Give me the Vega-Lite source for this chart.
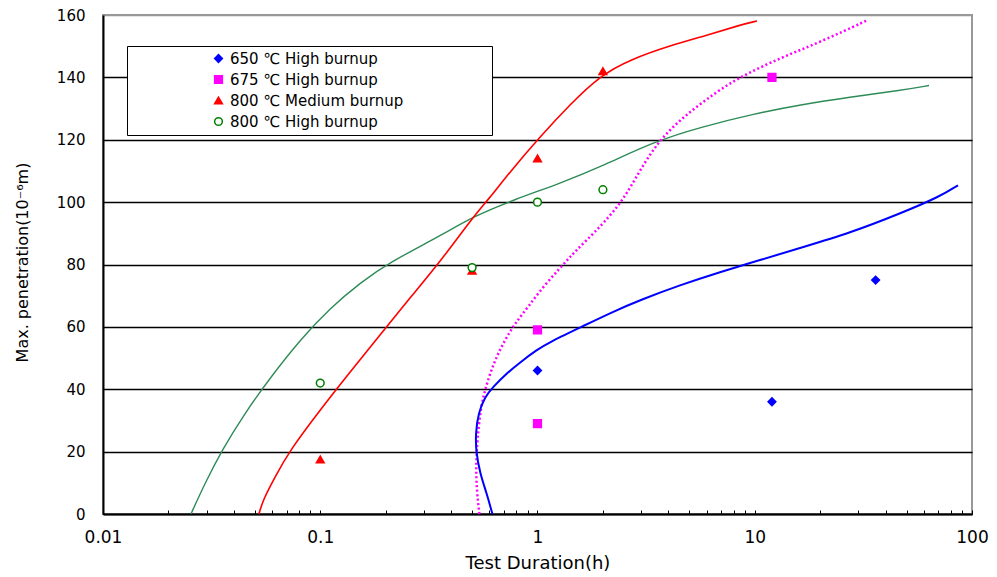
{
  "$schema": "https://vega.github.io/schema/vega-lite/v6.json",
  "width": 869,
  "height": 499,
  "autosize": "none",
  "padding": {"left": 103, "top": 15, "right": 25, "bottom": 63},
  "background": "white",
  "config": {"font": "DejaVu Sans", "view": {"stroke": "#999999", "strokeWidth": 2}},
  "datasets": {
    "pts": [
      {"series": "650 ℃ High burnup", "x": 1, "y": 46},
      {"series": "650 ℃ High burnup", "x": 12, "y": 36},
      {"series": "650 ℃ High burnup", "x": 36, "y": 75},
      {"series": "675 ℃ High burnup", "x": 1, "y": 29},
      {"series": "675 ℃ High burnup", "x": 1, "y": 59},
      {"series": "675 ℃ High burnup", "x": 12, "y": 140},
      {"series": "800 ℃ Medium burnup", "x": 0.1, "y": 17.5},
      {"series": "800 ℃ Medium burnup", "x": 0.5, "y": 78},
      {"series": "800 ℃ Medium burnup", "x": 1, "y": 114},
      {"series": "800 ℃ Medium burnup", "x": 2, "y": 142},
      {"series": "800 ℃ High burnup", "x": 0.1, "y": 42},
      {"series": "800 ℃ High burnup", "x": 0.5, "y": 79},
      {"series": "800 ℃ High burnup", "x": 1, "y": 100},
      {"series": "800 ℃ High burnup", "x": 2, "y": 104}
    ],
    "crv": [
      {"curve": "c650", "x": 0.62, "y": 0},
      {"curve": "c650", "x": 0.584, "y": 6.6},
      {"curve": "c650", "x": 0.544, "y": 13.0},
      {"curve": "c650", "x": 0.521, "y": 20.0},
      {"curve": "c650", "x": 0.519, "y": 25.9},
      {"curve": "c650", "x": 0.534, "y": 32.3},
      {"curve": "c650", "x": 0.573, "y": 37.6},
      {"curve": "c650", "x": 0.626, "y": 40.8},
      {"curve": "c650", "x": 0.721, "y": 45.1},
      {"curve": "c650", "x": 0.831, "y": 48.6},
      {"curve": "c650", "x": 0.991, "y": 52.6},
      {"curve": "c650", "x": 1.142, "y": 55.2},
      {"curve": "c650", "x": 1.625, "y": 60.3},
      {"curve": "c650", "x": 2.233, "y": 64.9},
      {"curve": "c650", "x": 2.964, "y": 68.6},
      {"curve": "c650", "x": 4.53, "y": 73.4},
      {"curve": "c650", "x": 6.918, "y": 77.6},
      {"curve": "c650", "x": 10.57, "y": 81.4},
      {"curve": "c650", "x": 16.16, "y": 85.3},
      {"curve": "c650", "x": 27.44, "y": 90.1},
      {"curve": "c650", "x": 46.6, "y": 96.3},
      {"curve": "c650", "x": 71.2, "y": 101.8},
      {"curve": "c650", "x": 86.2, "y": 105.4},
      {"curve": "c675", "x": 0.54, "y": 0},
      {"curve": "c675", "x": 0.525, "y": 7.7},
      {"curve": "c675", "x": 0.521, "y": 15.2},
      {"curve": "c675", "x": 0.528, "y": 23.7},
      {"curve": "c675", "x": 0.548, "y": 34.4},
      {"curve": "c675", "x": 0.584, "y": 41.9},
      {"curve": "c675", "x": 0.637, "y": 49.4},
      {"curve": "c675", "x": 0.708, "y": 55.8},
      {"curve": "c675", "x": 0.788, "y": 61.1},
      {"curve": "c675", "x": 0.907, "y": 66.5},
      {"curve": "c675", "x": 1.063, "y": 72.9},
      {"curve": "c675", "x": 1.269, "y": 78.8},
      {"curve": "c675", "x": 1.461, "y": 83.6},
      {"curve": "c675", "x": 1.684, "y": 87.8},
      {"curve": "c675", "x": 2.009, "y": 93.2},
      {"curve": "c675", "x": 2.483, "y": 100.7},
      {"curve": "c675", "x": 2.95, "y": 110.0},
      {"curve": "c675", "x": 3.6, "y": 119.5},
      {"curve": "c675", "x": 4.6, "y": 126.8},
      {"curve": "c675", "x": 6.0, "y": 133.0},
      {"curve": "c675", "x": 8.11, "y": 139.4},
      {"curve": "c675", "x": 13.07, "y": 146.2},
      {"curve": "c675", "x": 19.97, "y": 151.3},
      {"curve": "c675", "x": 33.2, "y": 158.4},
      {"curve": "c800m", "x": 0.0522, "y": 0},
      {"curve": "c800m", "x": 0.0545, "y": 4.5},
      {"curve": "c800m", "x": 0.0619, "y": 11.9},
      {"curve": "c800m", "x": 0.0726, "y": 20.5},
      {"curve": "c800m", "x": 0.0997, "y": 33.3},
      {"curve": "c800m", "x": 0.137, "y": 45.5},
      {"curve": "c800m", "x": 0.1884, "y": 57.4},
      {"curve": "c800m", "x": 0.2588, "y": 69.3},
      {"curve": "c800m", "x": 0.3557, "y": 80.8},
      {"curve": "c800m", "x": 0.5046, "y": 95.2},
      {"curve": "c800m", "x": 0.5919, "y": 100.7},
      {"curve": "c800m", "x": 0.747, "y": 109.7},
      {"curve": "c800m", "x": 1.016, "y": 120.6},
      {"curve": "c800m", "x": 1.411, "y": 131.3},
      {"curve": "c800m", "x": 1.94, "y": 140.5},
      {"curve": "c800m", "x": 2.666, "y": 145.7},
      {"curve": "c800m", "x": 4.073, "y": 150.2},
      {"curve": "c800m", "x": 6.223, "y": 153.8},
      {"curve": "c800m", "x": 8.553, "y": 156.8},
      {"curve": "c800m", "x": 10.24, "y": 158.1},
      {"curve": "c800h", "x": 0.0254, "y": 0},
      {"curve": "c800h", "x": 0.02948, "y": 9.9},
      {"curve": "c800h", "x": 0.0353, "y": 20.5},
      {"curve": "c800h", "x": 0.04504, "y": 32.4},
      {"curve": "c800h", "x": 0.05871, "y": 43.6},
      {"curve": "c800h", "x": 0.08067, "y": 55.8},
      {"curve": "c800h", "x": 0.1109, "y": 66.0},
      {"curve": "c800h", "x": 0.1524, "y": 74.1},
      {"curve": "c800h", "x": 0.2095, "y": 80.8},
      {"curve": "c800h", "x": 0.3557, "y": 89.1},
      {"curve": "c800h", "x": 0.5046, "y": 95.4},
      {"curve": "c800h", "x": 0.788, "y": 100.9},
      {"curve": "c800h", "x": 1.269, "y": 106.0},
      {"curve": "c800h", "x": 2.023, "y": 111.8},
      {"curve": "c800h", "x": 3.474, "y": 119.5},
      {"curve": "c800h", "x": 5.598, "y": 124.0},
      {"curve": "c800h", "x": 10.03, "y": 128.4},
      {"curve": "c800h", "x": 16.16, "y": 131.2},
      {"curve": "c800h", "x": 27.44, "y": 133.7},
      {"curve": "c800h", "x": 46.6, "y": 135.8},
      {"curve": "c800h", "x": 63.4, "y": 137.4}
    ]
  },
  "layer": [
    {
      "data": {"name": "crv"},
      "transform": [{"filter": "datum.curve == 'c800h'"}],
      "mark": {"type": "line", "interpolate": "basis", "color": "#2e8b57", "strokeWidth": 1.4},
      "encoding": {
        "x": {
          "field": "x", "type": "quantitative",
          "scale": {"type": "log", "domain": [0.01, 100], "nice": false},
          "axis": {
            "title": "Test Duration(h)",
            "values": [0.01, 0.02, 0.03, 0.04, 0.05, 0.06, 0.07, 0.08, 0.09, 0.1, 0.2, 0.3, 0.4, 0.5, 0.6, 0.7, 0.8, 0.9, 1, 2, 3, 4, 5, 6, 7, 8, 9, 10, 20, 30, 40, 50, 60, 70, 80, 90, 100],
            "format": "~g",
            "labelExpr": "(datum.value == 0.01 || datum.value == 0.1 || datum.value == 1 || datum.value == 10 || datum.value == 100) ? datum.label : ''",
            "labelOverlap": false,
            "labelFlush": false,
            "grid": false,
            "tickSize": -4,
            "tickColor": "black",
            "tickWidth": 1,
            "domainColor": "black",
            "domainWidth": 2,
            "labelFontSize": 17,
            "labelColor": "black",
            "labelPadding": 19,
            "titleFontSize": 18,
            "titleFontWeight": "normal",
            "titleColor": "black",
            "titleY": 49,
            "titleBaseline": "middle"
          }
        },
        "y": {
          "field": "y", "type": "quantitative",
          "scale": {"domain": [0, 160], "nice": false},
          "axis": {
            "title": "Max. penetration(10⁻⁶m)",
            "values": [0, 20, 40, 60, 80, 100, 120, 140, 160],
            "grid": true,
            "gridColor": {"condition": {"test": "datum.value == 160", "value": "#999999"}, "value": "#000000"},
            "gridWidth": 1.3,
            "ticks": false,
            "domainColor": "black",
            "domainWidth": 2,
            "labelFontSize": 15,
            "labelColor": "black",
            "labelPadding": 18,
            "titleFontSize": 16,
            "titleFontWeight": "normal",
            "titleColor": "black",
            "titleX": -81,
            "titleY": 247,
            "titleBaseline": "middle"
          }
        },
        "order": {"field": "y", "type": "quantitative"}
      }
    },
    {
      "data": {"name": "crv"},
      "transform": [{"filter": "datum.curve == 'c800m'"}],
      "mark": {"type": "line", "interpolate": "basis", "color": "#ff0000", "strokeWidth": 1.6},
      "encoding": {
        "x": {"field": "x", "type": "quantitative"},
        "y": {"field": "y", "type": "quantitative"},
        "order": {"field": "y", "type": "quantitative"}
      }
    },
    {
      "data": {"name": "crv"},
      "transform": [{"filter": "datum.curve == 'c675'"}],
      "mark": {"type": "line", "interpolate": "basis", "color": "#ff00ff", "strokeWidth": 2.5, "strokeDash": [2, 2.5]},
      "encoding": {
        "x": {"field": "x", "type": "quantitative"},
        "y": {"field": "y", "type": "quantitative"},
        "order": {"field": "y", "type": "quantitative"}
      }
    },
    {
      "data": {"name": "crv"},
      "transform": [{"filter": "datum.curve == 'c650'"}],
      "mark": {"type": "line", "interpolate": "basis", "color": "#0000ff", "strokeWidth": 2},
      "encoding": {
        "x": {"field": "x", "type": "quantitative"},
        "y": {"field": "y", "type": "quantitative"},
        "order": {"field": "y", "type": "quantitative"}
      }
    },
    {
      "data": {"name": "pts"},
      "mark": {"type": "point", "size": 60, "strokeWidth": 1.5, "opacity": 1},
      "encoding": {
        "x": {"field": "x", "type": "quantitative"},
        "y": {"field": "y", "type": "quantitative"},
        "shape": {
          "field": "series", "type": "nominal",
          "scale": {"domain": ["650 ℃ High burnup", "675 ℃ High burnup", "800 ℃ Medium burnup", "800 ℃ High burnup"], "range": ["diamond", "square", "triangle-up", "circle"]},
          "legend": {"title": " ", "titleOrient": "right", "titlePadding": 84, "orient": "none", "legendX": 24, "legendY": 31, "padding": 5, "fillColor": "white", "strokeColor": "black", "symbolOffset": 79, "labelOffset": 4, "labelFontSize": 15, "labelColor": "black", "labelLimit": 400, "rowPadding": 5, "symbolSize": 60, "symbolStrokeWidth": 1.5}
        },
        "stroke": {
          "field": "series", "type": "nominal",
          "scale": {"domain": ["650 ℃ High burnup", "675 ℃ High burnup", "800 ℃ Medium burnup", "800 ℃ High burnup"], "range": ["#0000ff", "#ff00ff", "#ff0000", "#008000"]},
          "legend": {"title": " ", "titleOrient": "right", "titlePadding": 84, "orient": "none", "legendX": 24, "legendY": 31, "padding": 5, "fillColor": "white", "strokeColor": "black", "symbolOffset": 79, "labelOffset": 4, "labelFontSize": 15, "labelColor": "black", "labelLimit": 400, "rowPadding": 5, "symbolSize": 60, "symbolStrokeWidth": 1.5}
        },
        "fill": {
          "field": "series", "type": "nominal",
          "scale": {"domain": ["650 ℃ High burnup", "675 ℃ High burnup", "800 ℃ Medium burnup", "800 ℃ High burnup"], "range": ["#0000ff", "#ff00ff", "#ff0000", "#ffffff"]},
          "legend": {"title": " ", "titleOrient": "right", "titlePadding": 84, "orient": "none", "legendX": 24, "legendY": 31, "padding": 5, "fillColor": "white", "strokeColor": "black", "symbolOffset": 79, "labelOffset": 4, "labelFontSize": 15, "labelColor": "black", "labelLimit": 400, "rowPadding": 5, "symbolSize": 60, "symbolStrokeWidth": 1.5}
        }
      }
    }
  ]
}
